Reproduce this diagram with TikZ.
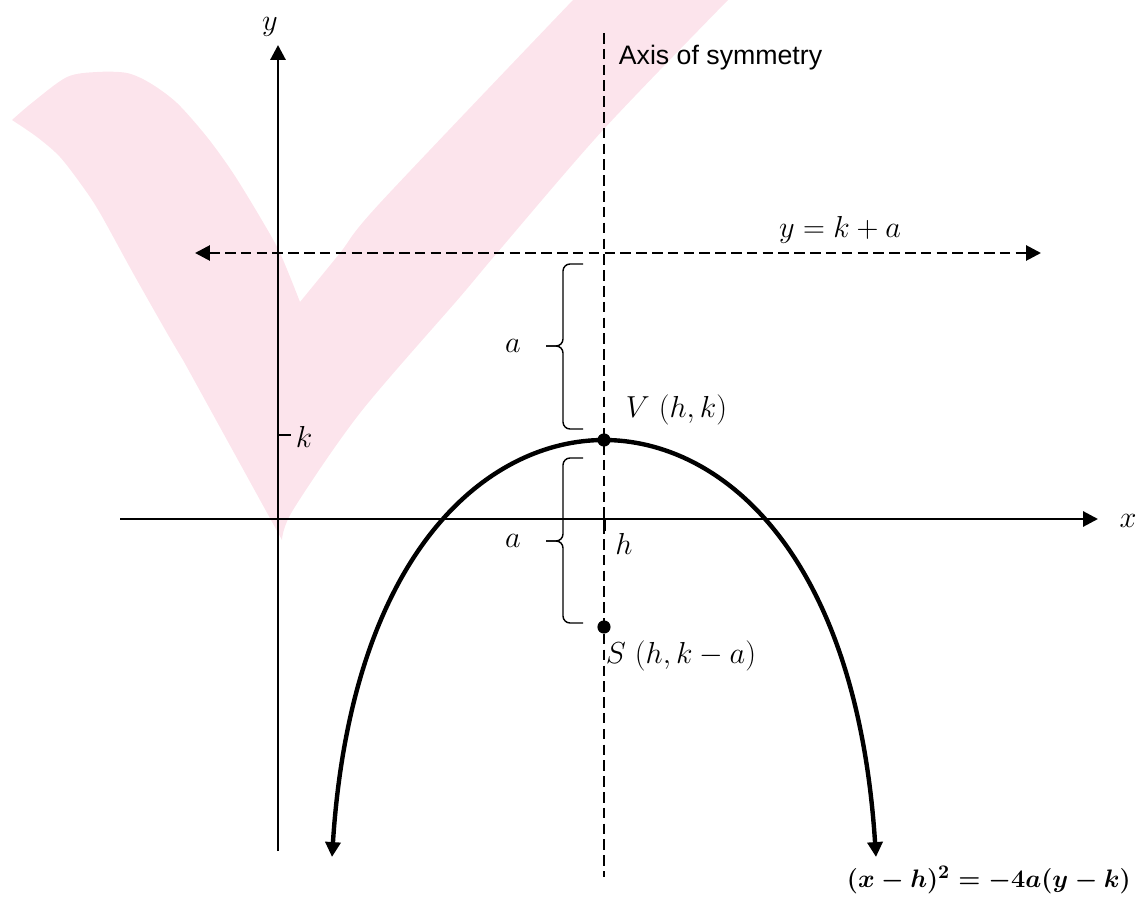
\documentclass[tikz,border=0pt]{standalone}
\usepackage{fontspec}
\usepackage{amsmath}
\usepackage{tikz}
\usetikzlibrary{arrows.meta}
\setsansfont{Liberation Sans}
\definecolor{tickpink}{HTML}{FCE4EC}
\definecolor{ink}{HTML}{000000}

\begin{document}
\begin{tikzpicture}[x=0.02cm,y=-0.02cm,>={Triangle[length=8.5pt,width=8.5pt]},
 axis/.style={draw=ink,line width=1.7pt},
 guide/.style={draw=ink,line width=1.6pt,dash pattern=on 6pt off 3pt},
 curve/.style={draw=ink,line width=2.5pt},
 bracket/.style={draw=ink,line width=0.8pt,rounded corners=4pt},
 lab/.style={font=\fontsize{17}{20}\selectfont,inner sep=2pt},
 dot/.style={circle,fill=ink,inner sep=0pt,minimum size=7.5pt}]
 \useasboundingbox (0,0) rectangle (1139,898);
 % pale tick mark behind everything
 \fill[tickpink] plot[smooth,tension=.5] coordinates {(12,120) (33,102) (67,77) (97,72) (127,73) (150,83) (177,103) (207,137) (233,173) (260,217) (280,253) (300,302)}
   -- plot[smooth,tension=.5] coordinates {(300,302) (340,253) (380,203) (573,0)} -- (728,0)
   -- plot[smooth,tension=.5] coordinates {(728,0) (603,130) (497,253) (460,297) (360,413) (293,510) (282,540)}
   -- (183,360)
   -- plot[smooth,tension=.5] coordinates {(183,360) (167,333) (133,273) (100,213) (83,187) (60,157) (37,137) (12,120)} -- cycle;
 % axes
 \coordinate (ybot) at (278,851);
 \coordinate (ytop) at (278,45);
 \coordinate (xleft) at (120,519);
 \coordinate (xright) at (1098,519);
 \draw[axis,->] (ybot) -- (ytop);
 \draw[axis,->] (xleft) -- (xright);
 \node[lab] (ylab) at (270,27) {$y$};
 \node[lab] (xlab) at (1128,521) {$x$};
 \coordinate (kt) at (278,435);
 \coordinate (ht) at (604,519);
 \draw[axis] (kt) -- ++(13,0);
 \draw[axis] (ht) -- ++(0,12);
 \node[lab] (klab) at (304,437) {$k$};
 \node[lab] (hlab) at (624,544) {$h$};
 % directrix and axis of symmetry
 \coordinate (dleft) at (195,253);
 \coordinate (dright) at (1041,253);
 \coordinate (stop) at (604,33);
 \coordinate (sbot) at (604,877);
 \draw[guide,<->] (dleft) -- (dright);
 \draw[guide] (stop) -- (sbot);
 \node[lab] (dlab) at (840,230) {$y=k+a$};
 \node[lab,anchor=west,font=\sffamily\fontsize{15.2}{18}\selectfont] (slab) at (615,58) {Axis of symmetry};
 % parabola
 \node[dot] (V) at (604,440) {};
 \node[dot] (S) at (604,627) {};
 \coordinate (pleft) at (332,857);
 \coordinate (pright) at (876,857);
 \draw[curve,<->] (pleft) .. controls (352,548) and (490,440) .. (V.center) .. controls (718,440) and (856,548) .. (pright);
 \node[lab,anchor=west] (Vlab) at (622,410) {$V\ (h,k)$};
 \node[lab,anchor=west] (Slab) at (602,656) {$S\ (h,k-a)$};
 % braces for the distance a
 \foreach \ya/\ym/\yb/\nm in {264/346/429/au,458/541/623/ad} {
   \draw[bracket] (583,\ya) -- (563,\ya) -- (563,\ym) -- (546,\ym);
   \draw[bracket] (546,\ym) -- (563,\ym) -- (563,\yb) -- (583,\yb);
   \node[lab] (\nm) at (513,\ym) {$a$};
 }
 \node[lab,font=\fontsize{15.5}{18}\selectfont,anchor=east,inner sep=0pt] (eq) at (1131,880) {$\boldsymbol{(x-h)^2=-4a(y-k)}$};
\end{tikzpicture}
\end{document}
